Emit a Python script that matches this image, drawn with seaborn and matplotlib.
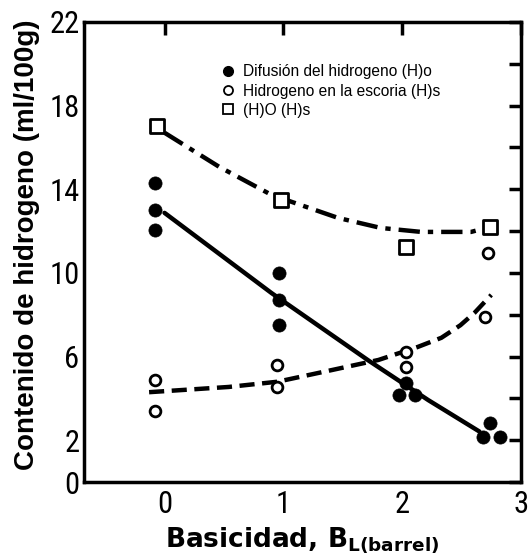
import numpy as np
import pandas as pd
import matplotlib
matplotlib.use("Agg")
import matplotlib.pyplot as plt
from matplotlib import font_manager
from matplotlib.lines import Line2D
import seaborn as sns

# ---- data ----
difusion_x = [-0.08, -0.08, -0.08, 0.96, 0.96, 0.96, 1.97, 2.03, 2.11, 2.68, 2.74, 2.82]
difusion_y = [14.3, 13.0, 12.06, 10.0, 8.7, 7.5, 4.16, 4.73, 4.16, 2.15, 2.82, 2.15]

escoria_x = [-0.08, -0.08, 0.95, 0.95, 2.03, 2.03, 2.70, 2.72]
escoria_y = [4.88, 3.4, 5.6, 4.55, 6.2, 5.5, 7.9, 10.96]

total_x = [-0.06, 0.98, 2.03, 2.74]
total_y = [17.0, 13.5, 11.24, 12.2]

# fitted curves as drawn in the original
fit_dif_x = [0.0, 0.9, 1.72, 2.22, 2.65]
fit_dif_y = [12.87, 9.04, 5.8, 3.92, 2.42]

fit_esc_x = [-0.13, 0.54, 0.95, 1.41, 1.8, 2.13, 2.33, 2.49, 2.61, 2.75]
fit_esc_y = [4.3, 4.55, 4.8, 5.36, 5.84, 6.46, 6.9, 7.5, 8.1, 8.95]

fit_tot_x = [0.0, 0.46, 0.9, 1.46, 1.82, 2.16, 2.58, 2.74]
fit_tot_y = [16.7, 15.07, 13.73, 12.63, 12.15, 11.96, 11.96, 12.2]

legend_labels = ["Difusión del hidrogeno (H)o",
                 "Hidrogeno en la escoria (H)s",
                 "(H)O (H)s"]
y_ticks = [0, 2, 4, 6, 8, 10, 12, 14, 16, 18, 20, 22]
y_ticklabels = ["0", "2", "", "6", "", "10", "", "14", "", "18", "", "22"]
x_ticks = [0, 1, 2, 3]
x_ticklabels = ["0", "1", "2", "3"]

sns.set_theme(style="white")
plt.rcParams['font.family'] = ['Liberation Sans', 'DejaVu Sans']
plt.rcParams['text.color'] = 'black'
plt.rcParams['axes.labelcolor'] = 'black'

# pick a condensed face for tick numbers if one is installed
installed = {(f.name, f.stretch) for f in font_manager.fontManager.ttflist}
names = {n for n, _ in installed}
tick_font = dict(family=['Liberation Sans', 'DejaVu Sans'], size=19)
for cand in ['Liberation Sans Narrow', 'DejaVu Sans Condensed',
             'Roboto Condensed', 'Open Sans Condensed']:
    if cand in names:
        tick_font = dict(family=[cand, 'DejaVu Sans'], size=22)
        break
else:
    for n, st in installed:
        if n == 'DejaVu Sans' and st in ('condensed', 'semi-condensed', 75, 87.5):
            tick_font = dict(family=['DejaVu Sans'], size=21, stretch='condensed')
            break

fig = plt.figure(figsize=(5.3, 5.6), dpi=100)
ax = fig.add_axes([0.158, 0.139, 0.825, 0.822])

# curves
sns.lineplot(x=fit_dif_x, y=fit_dif_y, ax=ax, color="black", lw=3.2,
             sort=False, estimator=None)
sns.lineplot(x=fit_esc_x, y=fit_esc_y, ax=ax, color="black", lw=3.2,
             sort=False, estimator=None)
sns.lineplot(x=fit_tot_x, y=fit_tot_y, ax=ax, color="black", lw=3.2,
             sort=False, estimator=None)
lines = ax.get_lines()
lines[1].set_dashes([3.4, 1.7])
lines[2].set_dashes([4.8, 1.8, 1.2, 1.8])

# points
sns.scatterplot(x=difusion_x, y=difusion_y, ax=ax, marker="o", s=90,
                color="black", edgecolor="black", linewidth=0.5, zorder=5)
sns.scatterplot(x=escoria_x, y=escoria_y, ax=ax, marker="o", s=60,
                facecolor="white", edgecolor="black", linewidth=2.0, zorder=5)
sns.scatterplot(x=total_x, y=total_y, ax=ax, marker="s", s=90,
                facecolor="white", edgecolor="black", linewidth=2.0, zorder=5)

ax.set_xlim(-0.68, 3.0)
ax.set_ylim(0, 22)
ax.set_yticks(y_ticks)
ax.set_yticklabels(y_ticklabels)
ax.set_xticks(x_ticks)
ax.set_xticklabels(x_ticklabels)

for s in ax.spines.values():
    s.set_linewidth(2.5)
    s.set_color("black")

ax.tick_params(axis="both", which="both", direction="in", length=9, width=2.5,
               top=True, right=True, color="black",
               labelcolor="black", pad=3)
ax.tick_params(axis="x", pad=6)
for lab in ax.get_xticklabels() + ax.get_yticklabels():
    lab.set_fontproperties(font_manager.FontProperties(**tick_font))

ax.set_ylabel("Contenido de hidrogeno (ml/100g)", fontsize=20,
              fontweight="bold", color="black")
ax.yaxis.set_label_coords(-0.10, 0.515)
ax.set_xlabel(r"Basicidad, B$_{\mathbf{L(barrel)}}$", fontsize=19,
              fontweight="bold", family=['DejaVu Sans'], labelpad=4,
              color="black")

handles = [
    Line2D([], [], marker="o", ls="none", color="black", markersize=7),
    Line2D([], [], marker="o", ls="none", markerfacecolor="white",
           markeredgecolor="black", markeredgewidth=1.3, markersize=6.5),
    Line2D([], [], marker="s", ls="none", markerfacecolor="white",
           markeredgecolor="black", markeredgewidth=1.3, markersize=6.5),
]
leg = ax.legend(handles, legend_labels, loc="upper left",
                bbox_to_anchor=(0.315, 0.908), frameon=False, fontsize=11.2,
                handlelength=0.8, handletextpad=0.6, labelspacing=0.28,
                borderpad=0, borderaxespad=0)
for t in leg.get_texts():
    t.set_color("black")

fig.savefig("out.png", dpi=100)
